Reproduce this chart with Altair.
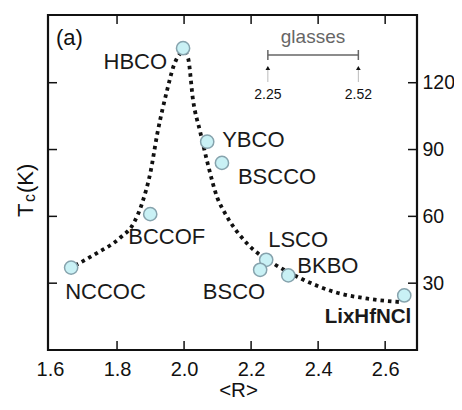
import altair as alt
import pandas as pd

# Data points
names = ["HBCO", "YBCO", "BSCCO", "BCCOF", "NCCOC", "LSCO", "BSCO", "BKBO", "LixHfNCl"]
r_vals = [1.997, 2.069, 2.113, 1.899, 1.663, 2.245, 2.227, 2.311, 2.657]
tc_vals = [135.5, 93.5, 84, 61, 37, 40.5, 36, 33.5, 24.5]

# Dotted guide curve
curve_r = [1.675, 1.74, 1.81, 1.85, 1.875, 1.90, 1.92, 1.95, 1.97, 1.985, 2.0,
           2.012, 2.027, 2.048, 2.07, 2.10, 2.12, 2.19, 2.27, 2.35, 2.45, 2.55, 2.645]
curve_tc = [38, 43.5, 50.5, 57, 66, 80, 97, 117, 128, 132.5, 134,
            131, 112, 98, 84, 68, 62, 47.5, 38.5, 32, 26, 23, 21.5]

x_ticks = [1.6, 1.8, 2.0, 2.2, 2.4, 2.6]
y_ticks = [30, 60, 90, 120]
inner_x_ticks = [1.8, 2.0, 2.2, 2.4, 2.6]

glass_vals = [2.25, 2.52]
glass_labels = ["2.25", "2.52"]

FONT = "Liberation Sans"
W, H = 369, 335

pts = pd.DataFrame({"R": r_vals, "Tc": tc_vals, "name": names})
curve = pd.DataFrame({"R": curve_r, "Tc": curve_tc})
xt = pd.DataFrame({"R": inner_x_ticks})
yt = pd.DataFrame({"Tc": y_ticks})
gl = pd.DataFrame({"R": glass_vals, "lab": glass_labels})
glbar = pd.DataFrame({"R": [glass_vals[0]], "R2": [glass_vals[1]]})

xs = alt.Scale(domain=[1.594, 2.695], nice=False, zero=False)
ys = alt.Scale(domain=[0, 150.4], nice=False, zero=False)

xenc = alt.X("R:Q", scale=xs,
             axis=alt.Axis(values=x_ticks, format=".1f", ticks=False, domain=False, grid=False,
                           labelFontSize=20, labelFont=FONT, labelColor="#111", labelPadding=9,
                           title="<R>", titleFont=FONT, titleFontSize=20.5, titleFontWeight="normal",
                           titleColor="#111", titlePadding=1, titleX=190))
yenc = alt.Y("Tc:Q", scale=ys,
             axis=alt.Axis(values=y_ticks, orient="right", ticks=False, domain=False, grid=False,
                           labelFontSize=19.5, labelFont=FONT, labelColor="#111", labelPadding=5,
                           title=""))

line = alt.Chart(curve).mark_line(color="#111", strokeWidth=3.8, strokeDash=[3.5, 4],
                                  interpolate="monotone", strokeCap="butt").encode(x=xenc, y=yenc)

points = alt.Chart(pts).mark_point(filled=True, size=175, fill="#c9f1f5", stroke="#86a3ad",
                                   strokeWidth=1.5, opacity=1).encode(
    x=alt.X("R:Q", scale=xs), y=alt.Y("Tc:Q", scale=ys))

label_style = {
    "HBCO": dict(align="right", dx=-16, dy=14),
    "YBCO": dict(align="left", dx=15, dy=-2),
    "BSCCO": dict(align="left", dx=16, dy=14),
    "BCCOF": dict(align="left", dx=-22, dy=23),
    "NCCOC": dict(align="left", dx=-6, dy=24),
    "LSCO": dict(align="left", dx=2, dy=-20),
    "BSCO": dict(align="right", dx=5, dy=22),
    "BKBO": dict(align="left", dx=9, dy=-9),
}
labels = []
for nm, st in label_style.items():
    labels.append(alt.Chart(pts).transform_filter(alt.datum.name == nm).mark_text(
        font=FONT, fontSize=22, color="#1a1a1a", baseline="middle", **st).encode(
        x=alt.X("R:Q", scale=xs), y=alt.Y("Tc:Q", scale=ys), text="name:N"))
labels.append(alt.Chart(pts).transform_filter(alt.datum.name == "LixHfNCl").mark_text(
    font=FONT, fontSize=20.5, fontWeight="bold", color="#1a1a1a", baseline="middle",
    align="right", dx=7, dy=22).encode(
    x=alt.X("R:Q", scale=xs), y=alt.Y("Tc:Q", scale=ys), text="name:N"))

# inward ticks
tick_c = "#111"
top_ticks = alt.Chart(xt).mark_rule(color=tick_c, strokeWidth=1.5).encode(
    x=alt.X("R:Q", scale=xs), y=alt.value(0), y2=alt.value(9))
bot_ticks = alt.Chart(xt).mark_rule(color=tick_c, strokeWidth=1.5).encode(
    x=alt.X("R:Q", scale=xs), y=alt.value(H - 9), y2=alt.value(H))
left_ticks = alt.Chart(yt).mark_rule(color=tick_c, strokeWidth=1.5).encode(
    y=alt.Y("Tc:Q", scale=ys), x=alt.value(0), x2=alt.value(9))
right_ticks = alt.Chart(yt).mark_rule(color=tick_c, strokeWidth=1.5).encode(
    y=alt.Y("Tc:Q", scale=ys), x=alt.value(W - 9), x2=alt.value(W))

# glasses annotation
g_bar = alt.Chart(glbar).mark_rule(color="#666", strokeWidth=1.5).encode(
    x=alt.X("R:Q", scale=xs), x2="R2:Q", y=alt.value(40))
g_caps = alt.Chart(gl).mark_rule(color="#666", strokeWidth=1.5).encode(
    x=alt.X("R:Q", scale=xs), y=alt.value(35), y2=alt.value(45))
g_stem = alt.Chart(gl).mark_rule(color="#bbb", strokeWidth=1).encode(
    x=alt.X("R:Q", scale=xs), y=alt.value(52), y2=alt.value(67))
g_head = alt.Chart(gl).mark_point(shape="triangle-up", filled=True, size=22, color="#111",
                                  opacity=1).encode(x=alt.X("R:Q", scale=xs), y=alt.value(53))
g_lab = alt.Chart(gl).mark_text(font=FONT, fontSize=14, color="#111", baseline="middle").encode(
    x=alt.X("R:Q", scale=xs), y=alt.value(80), text="lab:N")
g_title = alt.Chart(glbar).mark_text(font=FONT, fontSize=19, color="#666", baseline="alphabetic").encode(
    x=alt.value(265), y=alt.value(28), text=alt.value("glasses"))

panel = alt.Chart(glbar).mark_text(font=FONT, fontSize=22, color="#111", align="left",
                                   baseline="alphabetic").encode(
    x=alt.value(8), y=alt.value(30), text=alt.value("(a)"))

# y title: T_c(K)
yt_T = alt.Chart(glbar).mark_text(font=FONT, fontSize=22, color="#111", angle=270, align="left",
                                  baseline="alphabetic").encode(
    x=alt.value(-15), y=alt.value(202), text=alt.value("T"))
yt_c = alt.Chart(glbar).mark_text(font=FONT, fontSize=16, color="#111", angle=270, align="left",
                                  baseline="alphabetic").encode(
    x=alt.value(-13), y=alt.value(187), text=alt.value("c"))
yt_K = alt.Chart(glbar).mark_text(font=FONT, fontSize=22, color="#111", angle=270, align="left",
                                  baseline="alphabetic").encode(
    x=alt.value(-15), y=alt.value(178), text=alt.value("(K)"))

chart = alt.layer(
    line, top_ticks, bot_ticks, left_ticks, right_ticks,
    g_bar, g_caps, g_stem, g_head, g_lab, g_title, panel,
    yt_T, yt_c, yt_K, points, *labels
).properties(
    width=W, height=H,
    autosize=alt.AutoSizeParams(type="none"),
    padding={"left": 40, "top": 7, "right": 37, "bottom": 51},
    background="white",
).configure_view(stroke="#111", strokeWidth=2.2)

chart.save("out.html", embed_options={"renderer": "svg", "actions": False})
